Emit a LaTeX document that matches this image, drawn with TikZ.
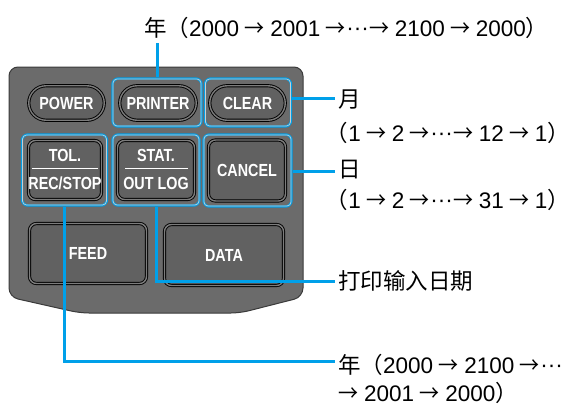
\documentclass[tikz,border=0pt]{standalone}
\usepackage{fontspec}
\setmainfont{Liberation Sans}
\newfontfamily\cjk{Noto Sans CJK SC}
\newfontfamily\btnf[FakeStretch=0.82]{Liberation Sans Bold}
\usetikzlibrary{shapes.misc,calc}
\definecolor{panel}{HTML}{6B6B6B}
\definecolor{paneledge}{HTML}{3A3A3A}
\definecolor{btnfill}{HTML}{616161}
\definecolor{ring}{HTML}{7C7C7C}
\definecolor{hl}{HTML}{00A0E9}
\definecolor{hlin}{HTML}{C8CDD0}
\newcommand\mdots{\raisebox{1.5pt}{···}}
\newcommand\arw{\makebox[21pt]{\resizebox{20pt}{\height}{\cjk →}}}
\newcommand\ar{\hspace{5pt}\arw\hspace{5pt}}
\newcommand\arl{\hspace{5pt}\arw}
\newcommand\arr{\arw\hspace{5pt}}
\tikzset{
  btnbase/.style={draw=black, line width=0.9pt, double=ring, double distance=1.4pt, fill=btnfill, inner sep=0pt},
  sqbtn/.style={btnbase, rectangle, rounded corners=7pt},
  pill/.style={btnbase, rounded rectangle},
  hlbox/.style={draw=hl, line width=2.4pt, rounded corners=6pt, inner sep=0pt},
  hlinner/.style={draw=hlin, line width=0.7pt, rounded corners=4pt},
  btntxt/.style={text=white, font=\btnf\fontsize{17.5}{19}\selectfont, inner sep=0pt},
  conn/.style={draw=hl, line width=3pt},
  lbl/.style={anchor=west, inner sep=0pt, font=\fontsize{22.5}{25}\selectfont, text=black}
}
\begin{document}
\begin{tikzpicture}[x=1pt,y=-1pt]
\useasboundingbox (0,0) rectangle (582,405);
% panel
\fill[panel, draw=paneledge, line width=1pt, rounded corners=9pt]
  (9,67) -- (303,67) -- (303,297) -- (240,313) -- (80,313) -- (9,297) -- cycle;
% highlight boxes
\node[hlbox, minimum width=89pt, minimum height=48pt] (prbox) at (157,102.5) {};
\node[hlbox, minimum width=86pt, minimum height=48pt] (clbox) at (248,102.5) {};
\node[hlbox, minimum width=85pt, minimum height=71pt] (tolbox) at (64.5,170) {};
\node[hlbox, minimum width=87pt, minimum height=71pt] (stbox) at (156,170) {};
\node[hlbox, minimum width=88pt, minimum height=72pt] (cabox) at (247.5,170.5) {};
\foreach \b in {prbox,clbox,tolbox,stbox,cabox}
  \draw[hlinner] ($(\b.south west)+(1.7,-1.7)$) rectangle ($(\b.north east)+(-1.7,1.7)$);
% buttons
\node[pill, minimum width=75.5pt, minimum height=34.5pt] (power) at (66.5,103) {};
\node[pill, minimum width=76.5pt, minimum height=34.5pt] (printer) at (158,103) {};
\node[pill, minimum width=75.5pt, minimum height=34.5pt] (clear) at (247.5,103) {};
\node[sqbtn, minimum width=73pt, minimum height=59pt] (tol) at (65,170) {};
\node[sqbtn, minimum width=77pt, minimum height=59pt] (stat) at (156,170) {};
\node[sqbtn, minimum width=77pt, minimum height=61pt] (cancel) at (247,170.5) {};
\node[sqbtn, minimum width=117pt, minimum height=60pt] (feed) at (88,253.5) {};
\node[sqbtn, minimum width=119pt, minimum height=61pt] (data) at (224,255) {};
% button texts
\node[btntxt] (tpower) at (power) {POWER};
\node[btntxt] (tprinter) at (printer) {PRINTER};
\node[btntxt] (tclear) at (clear) {CLEAR};
\node[btntxt] (ttol) at ($(tol)+(0,-15)$) {TOL.};
\node[btntxt] (trec) at ($(tol)+(0,13)$) {REC/STOP};
\draw[white, line width=0.8pt] ($(tol)+(-33,-2)$) -- ($(tol)+(33,-2)$);
\node[btntxt] (tstat) at ($(stat)+(0,-15)$) {STAT.};
\node[btntxt] (tout) at ($(stat)+(0,13)$) {OUT LOG};
\draw[white, line width=0.8pt] ($(stat)+(-31,-2)$) -- ($(stat)+(32,-2)$);
\node[btntxt] (tcancel) at (cancel) {CANCEL};
\node[btntxt] (tfeed) at (feed) {FEED};
\node[btntxt] (tdata) at (data) {DATA};
% labels
\node[lbl] (year1) at (144,28) {{\cjk 年（}2000\ar 2001\arl\mdots\arr 2100\ar 2000{\cjk ）}};
\node[lbl] (mon1) at (338,100) {{\cjk 月}};
\node[lbl] (mon2) at (338,133) {\kern-0.55em{\cjk （}1\ar 2\arl\mdots\arr 12\ar 1{\cjk ）}};
\node[lbl] (day1) at (338,170) {{\cjk 日}};
\node[lbl] (day2) at (338,200) {\kern-0.55em{\cjk （}1\ar 2\arl\mdots\arr 31\ar 1{\cjk ）}};
\node[lbl] (prn) at (338,281) {{\cjk 打印输入日期}};
\node[lbl] (year2) at (338,365) {{\cjk 年（}2000\ar 2100\arl\mdots};
\node[lbl] (year3) at (338,393) {\arr 2001\ar 2000{\cjk ）}};
% connectors
\coordinate (c1) at (157,43);
\coordinate (c2) at (335,98);
\coordinate (c3) at (335,171);
\coordinate (c4) at (335,281);
\coordinate (c5) at (335,361);
\draw[conn] (prbox.north) -- (c1);
\draw[conn] (c2 -| clbox.east) -- (c2);
\draw[conn] (c3 -| cabox.east) -- (c3);
\draw[conn] (stbox.south) |- (c4);
\draw[conn] (tolbox.south) |- (c5);
\end{tikzpicture}
\end{document}
